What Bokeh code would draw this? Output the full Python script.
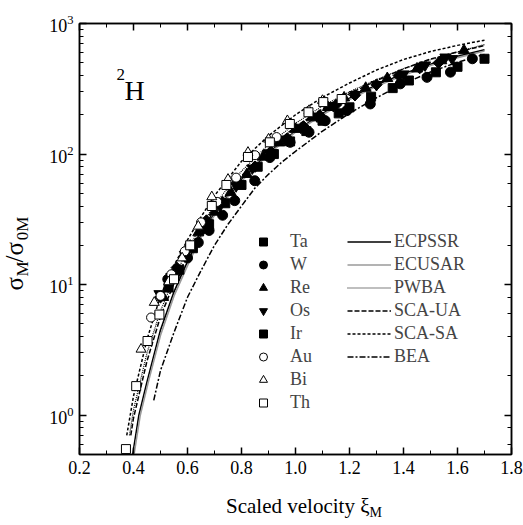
import math
from bokeh.plotting import figure
from bokeh.models import (LinearAxis, LogAxis, Label, Legend, LegendItem, CustomJSTickFormatter,
                          SingleIntervalTicker, PrintfTickFormatter, Range1d, LogTicker)
from bokeh.embed import file_html
from bokeh.resources import INLINE

# ---------------- data ----------------
ecpssr_x = [0.397, 0.42, 0.45, 0.50, 0.55, 0.60, 0.65, 0.70, 0.75, 0.80, 0.90, 1.00, 1.10, 1.20, 1.30, 1.40, 1.50, 1.60, 1.70]
ecpssr_y = [0.5, 1.0, 1.8, 4.5, 8.8, 15, 24, 35, 48, 64, 102, 150, 205, 268, 338, 412, 488, 560, 630]

ecusar_x = [0.402, 0.425, 0.455, 0.50, 0.55, 0.60, 0.65, 0.70, 0.75, 0.80, 0.90, 1.00, 1.10, 1.20, 1.30, 1.40, 1.50, 1.60, 1.70]
ecusar_y = [0.5, 1.0, 1.8, 4.1, 8.2, 14, 23, 34, 47, 62, 100, 147, 200, 262, 330, 402, 476, 548, 615]

pwba_x = [0.385, 0.40, 0.45, 0.50, 0.55, 0.60, 0.65, 0.70, 0.80, 0.90, 1.00, 1.10, 1.20, 1.30, 1.40, 1.50, 1.60, 1.70]
pwba_y = [0.7, 1.1, 3.0, 6.3, 11.2, 18.5, 28, 41, 74, 118, 172, 233, 300, 372, 450, 528, 605, 690]

scaua_x = [0.39, 0.40, 0.45, 0.50, 0.55, 0.60, 0.65, 0.70, 0.80, 0.90, 1.00, 1.10, 1.20, 1.30, 1.40, 1.50, 1.60, 1.70]
scaua_y = [0.7, 0.95, 2.6, 5.7, 10.2, 16.8, 25.5, 37, 68, 110, 162, 222, 290, 365, 450, 535, 605, 678]

scasa_x = [0.375, 0.40, 0.45, 0.50, 0.55, 0.60, 0.65, 0.70, 0.80, 0.90, 1.00, 1.10, 1.20, 1.30, 1.40, 1.50, 1.60, 1.70]
scasa_y = [0.7, 1.4, 3.8, 8.2, 14, 22, 33, 48, 88, 138, 200, 272, 350, 440, 530, 610, 680, 745]

bea_x = [0.475, 0.50, 0.55, 0.60, 0.65, 0.70, 0.75, 0.80, 0.85, 0.90, 0.95, 1.00, 1.10, 1.20, 1.30, 1.40, 1.50, 1.60, 1.70]
bea_y = [1.3, 2.2, 4.3, 8.0, 12.8, 20, 29, 40, 55, 70, 87, 105, 150, 205, 270, 345, 425, 505, 580]

ta_x = [0.53, 0.57, 0.62, 0.68, 0.74, 0.80, 0.86, 0.92, 0.98, 1.04, 1.10, 1.16, 1.20, 1.28, 1.36, 1.42, 1.52, 1.60, 1.70]
ta_y = [9.5, 13, 19, 29, 42, 58, 80, 100, 125, 150, 180, 205, 228, 275, 320, 366, 423, 466, 537]

w_x = [0.527, 0.56, 0.60, 0.64, 0.68, 0.73, 0.775, 0.849, 0.905, 0.98, 1.05, 1.11, 1.19, 1.277, 1.388, 1.487, 1.574, 1.655]
w_y = [11, 12.5, 16, 21, 26, 34, 44, 62.5, 94, 123, 147, 180, 215, 242, 345, 387, 424, 537]

re_x = [0.51, 0.55, 0.59, 0.64, 0.70, 0.76, 0.82, 0.88, 0.94, 1.00, 1.06, 1.12, 1.18, 1.26, 1.34, 1.45, 1.54, 1.624]
re_y = [8, 12, 17.5, 25, 36, 51, 70, 95, 122, 155, 190, 228, 270, 320, 380, 450, 520, 621]

os_x = [0.496, 0.54, 0.59, 0.66, 0.72, 0.78, 0.84, 0.90, 0.96, 1.02, 1.08, 1.14, 1.22, 1.30, 1.40, 1.48, 1.555, 1.58]
os_y = [8.5, 11.5, 17, 27, 40, 57, 78, 102, 130, 160, 195, 235, 285, 340, 410, 480, 552, 537]

ir_x = [0.50, 0.56, 0.61, 0.67, 0.73, 0.79, 0.85, 0.91, 0.97, 1.03, 1.09, 1.15, 1.22, 1.30, 1.382, 1.46, 1.53]
ir_y = [8, 13.5, 20, 31, 43, 60, 80, 104, 132, 163, 198, 238, 282, 340, 399, 455, 500]

au_x = [0.465, 0.50, 0.54, 0.59, 0.65, 0.71, 0.78, 0.85, 0.93]
au_y = [5.6, 8.2, 12, 18, 30, 43, 66, 98, 135]

bi_x = [0.428, 0.477, 0.53, 0.58, 0.64, 0.69, 0.75, 0.824, 0.90, 0.97, 1.05, 1.10]
bi_y = [3.2, 7.3, 10.5, 16, 28, 47, 64, 103, 130, 180, 215, 257]

th_x = [0.372, 0.41, 0.452, 0.496, 0.55, 0.61, 0.69, 0.744, 0.824, 0.905, 0.979, 1.048, 1.103, 1.171]
th_y = [0.55, 1.67, 3.7, 5.9, 11, 20, 40, 58, 95, 123, 170, 209, 250, 264]

FONT = "Liberation Serif"
X0, X1, Y0, Y1 = 0.2, 1.8, 0.5, 1000.0

p = figure(width=523, height=525, x_range=Range1d(X0, X1), y_range=Range1d(Y0, Y1),
           y_axis_type="log", output_backend="svg", toolbar_location=None,
           min_border_left=79, min_border_right=12, min_border_top=23, min_border_bottom=71)
p.xgrid.grid_line_color = None
p.ygrid.grid_line_color = None
p.outline_line_color = "black"
p.outline_line_width = 1.5
p.background_fill_color = "white"
p.border_fill_color = "white"

p.xaxis.ticker = SingleIntervalTicker(interval=0.2, num_minor_ticks=2)
p.xaxis.formatter = PrintfTickFormatter(format="%.1f")


def style(ax):
    ax.axis_line_width = 1.5
    ax.major_tick_in = 7
    ax.major_tick_out = 0
    ax.minor_tick_in = 4
    ax.minor_tick_out = 0
    ax.major_tick_line_width = 1.5
    ax.minor_tick_line_width = 1
    ax.major_label_text_font = FONT
    ax.major_label_text_font_size = "18px"
    ax.major_label_text_color = "black"
    ax.major_label_standoff = 6


style(p.xaxis[0])
style(p.yaxis[0])

top = LinearAxis(ticker=SingleIntervalTicker(interval=0.2, num_minor_ticks=2),
                 formatter=CustomJSTickFormatter(code="return ''"))
style(top)
top.major_label_text_font_size = "6px"
top.major_label_standoff = 0
p.add_layout(top, "above")
right = LogAxis(ticker=LogTicker(), formatter=CustomJSTickFormatter(code="return ''"))
style(right)
right.major_label_text_font_size = "6px"
right.major_label_standoff = 0
p.add_layout(right, "right")

# ---------------- curves ----------------
l1 = p.line(ecpssr_x, ecpssr_y, line_color="black", line_width=1.6)
l2 = p.line(ecusar_x, ecusar_y, line_color="#9a9a9a", line_width=1.6)
l3 = p.line(pwba_x, pwba_y, line_color="black", line_width=1.2, line_dash="1 1")
l4 = p.line(scaua_x, scaua_y, line_color="black", line_width=1.5, line_dash="5 2")
l5 = p.line(scasa_x, scasa_y, line_color="black", line_width=1.5, line_dash="3 2")
l6 = p.line(bea_x, bea_y, line_color="black", line_width=1.5, line_dash="6 2 2 2")

# ---------------- data points ----------------
r_ta = p.scatter(ta_x, ta_y, marker="square", size=9, fill_color="black", line_color="black")
r_w = p.scatter(w_x, w_y, marker="circle", size=10, fill_color="black", line_color="black")
r_re = p.scatter(re_x, re_y, marker="triangle", size=11, fill_color="black", line_color="black")
r_os = p.scatter(os_x, os_y, marker="inverted_triangle", size=11, fill_color="black", line_color="black")
r_ir = p.scatter(ir_x, ir_y, marker="square", angle=math.pi / 4, size=8, fill_color="black", line_color="black")
r_au = p.scatter(au_x, au_y, marker="circle", size=9, fill_color="white", line_color="black", line_width=1)
r_bi = p.scatter(bi_x, bi_y, marker="triangle", size=10, fill_color="white", line_color="black", line_width=1)
r_th = p.scatter(th_x, th_y, marker="square", size=9, fill_color="white", line_color="black", line_width=1)

# ---------------- legends ----------------
def mk_legend(items, loc, gw, standoff):
    return Legend(items=items, location=loc, border_line_color=None, background_fill_alpha=0,
                  label_text_font=FONT, label_text_font_size="18px", padding=0, margin=0,
                  spacing=2, glyph_height=21, label_height=21, glyph_width=gw,
                  label_standoff=standoff)

leg1 = mk_legend([LegendItem(label=n, renderers=[r]) for n, r in
                  [("Ta", r_ta), ("W", r_w), ("Re", r_re), ("Os", r_os), ("Ir", r_ir),
                   ("Au", r_au), ("Bi", r_bi), ("Th", r_th)]], (174, 41), 20, 17)
leg2 = mk_legend([LegendItem(label=n, renderers=[r]) for n, r in
                  [("ECPSSR", l1), ("ECUSAR", l2), ("PWBA", l3), ("SCA-UA", l4),
                   ("SCA-SA", l5), ("BEA", l6)]], (268, 87), 44, 3)
p.add_layout(leg1)
p.add_layout(leg2)

# ---------------- texts ----------------
FL, FR, FT, FB = 79, 511, 23, 454  # frame edges in canvas px


def cx2x(cx):
    return X0 + (cx - FL) * (X1 - X0) / (FR - FL)


def cy2y(cy):
    dec = math.log10(Y1) - math.log10(Y0)
    return 10 ** (math.log10(Y1) - (cy - FT) * dec / (FB - FT))


def lab_data(text, cx, cy, size, place, align="left", angle=0.0):
    p.add_layout(Label(x=cx2x(cx), y=cy2y(cy), x_units="data", y_units="data", text=text,
                       text_font=FONT, text_font_size=size, text_align=align,
                       text_baseline="alphabetic", angle=angle, text_color="black"), place)


def lab_screen(text, cx, cy, size):
    p.add_layout(Label(x=cx - FL, y=FB - cy, x_units="screen", y_units="screen", text=text,
                       text_font=FONT, text_font_size=size, text_align="left",
                       text_baseline="alphabetic", text_color="black"))

# x axis label
lab_data("Scaled velocity \u03be", 369, 505, "21px", "below", align="right")
lab_data("M", 369, 512, "14px", "below")
# y axis label (rotated): main symbols, then subscripts
A = math.pi / 2
lab_data("\u03c3\u2002\u200a/\u03c3", 14, 290, "25px", "left", angle=A)
lab_data("M\u2003 0M", 22, 276, "17px", "left", angle=A)
# nucleus label
lab_screen("2", 116, 74, "17px")
lab_screen("H", 124, 90, "28px")

open("out.html", "w").write(file_html(p, INLINE))
